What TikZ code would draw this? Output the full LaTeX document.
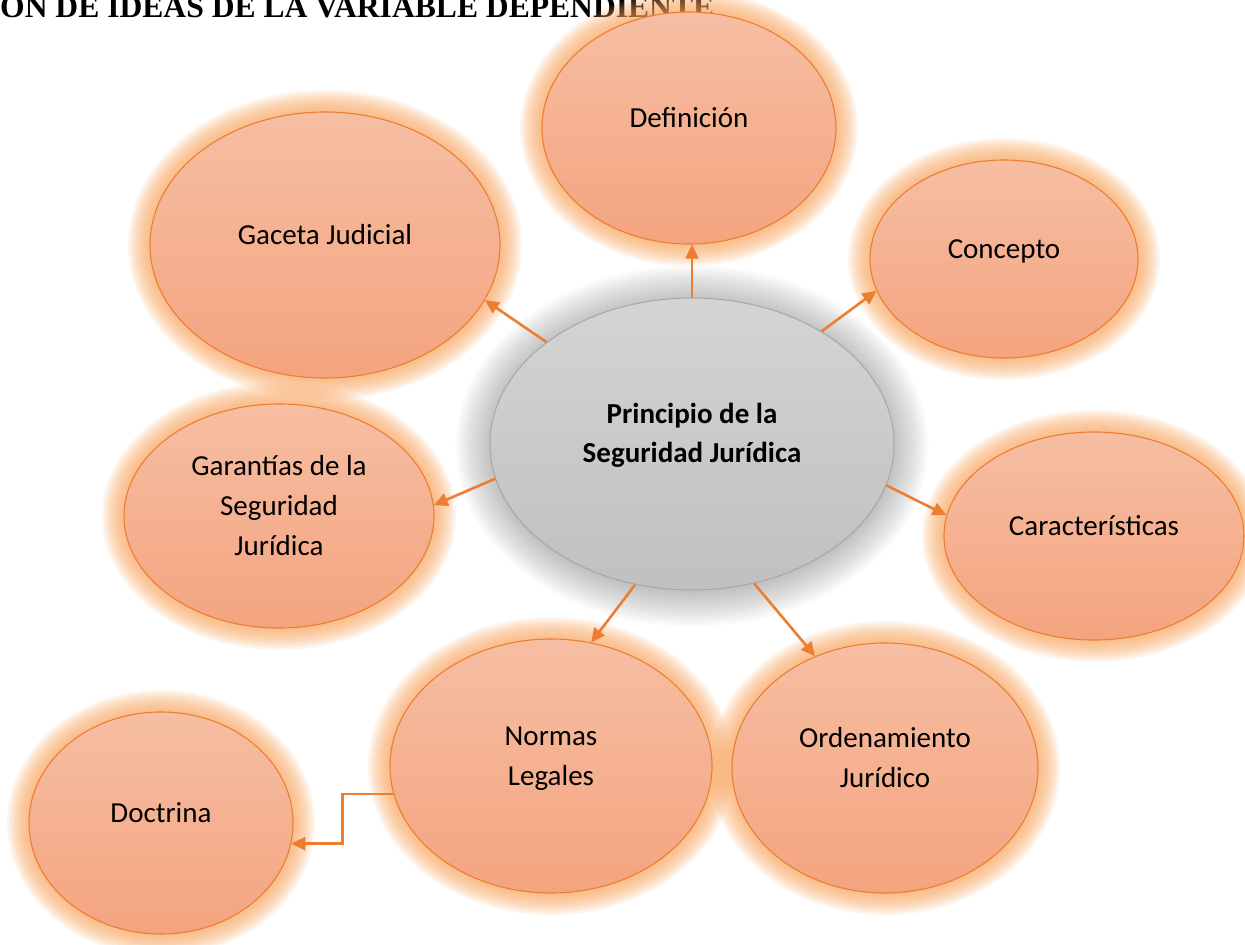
\documentclass[tikz,border=0pt]{standalone}
\usepackage{fontspec}
\setmainfont{Carlito}
\newfontfamily\titlefont{Liberation Serif}
\usetikzlibrary{shapes.geometric,arrows.meta,calc}
\definecolor{orline}{HTML}{ED7D31}
\definecolor{ortop}{HTML}{F6BEA3}
\definecolor{orbot}{HTML}{F4A47F}
\definecolor{glowc}{HTML}{F7A25A}
\definecolor{gtop}{HTML}{D4D4D4}
\definecolor{gbot}{HTML}{C0C0C0}
\definecolor{gline}{HTML}{A6A6A6}
\newcommand\bt[1]{\raisebox{9pt}[\height][\depth]{\begin{tabular}{@{}c@{}}#1\end{tabular}}}
\newcommand\glowat[4]{%
  \foreach \k in {1,...,11}{\fill[glowc, opacity=0.1] (#1,#2) ellipse [x radius={#3pt+\k*2pt}, y radius={#4pt+\k*2pt}];}}
\begin{document}
\begin{tikzpicture}[x=1pt,y=-1pt,
 bub/.style={ellipse, draw=orline, line width=1.1pt, top color=ortop, bottom color=orbot, inner sep=0pt, font=\fontsize{29}{40}\selectfont},
 core/.style={ellipse, draw=gline, line width=1pt, top color=gtop, bottom color=gbot, inner sep=0pt, font=\bfseries\fontsize{29}{39}\selectfont},
 link/.style={draw=orline, line width=2.6pt, -{Triangle[length=14pt,width=13pt]}},
 ttl/.style={anchor=base west, inner sep=0pt, font=\titlefont\bfseries\fontsize{31.6}{36}\selectfont}
]
\useasboundingbox (0,0) rectangle (1245,945);
\clip (0,0) rectangle (1245,945);
\node[ttl] (title) at (0,17) {ON DE IDEAS DE LA VARIABLE DEPENDIENTE};
% glows
\glowat{689}{128}{147}{116}
\glowat{325}{245}{175}{133}
\glowat{1004}{259}{134}{99}
\glowat{279}{516}{155}{112}
\glowat{1094}{536}{150}{104}
\glowat{551}{766}{161}{127}
\glowat{885}{768}{153}{125}
\glowat{161}{823}{132}{111}
% shadow of the central ellipse
\foreach \k in {1,...,14}{\fill[black, opacity=0.018] (692,446) ellipse [x radius={200pt+\k*2.6pt}, y radius={144pt+\k*2.6pt}];}
% nodes
\node[bub, minimum width=294pt, minimum height=232pt] (def) at (689,128) {\bt{Definición}};
\node[bub, minimum width=350pt, minimum height=266pt] (gac) at (325,245) {\bt{Gaceta Judicial}};
\node[bub, minimum width=268pt, minimum height=198pt] (con) at (1004,259) {\bt{Concepto}};
\node[bub, minimum width=310pt, minimum height=224pt] (gar) at (279,516) {\bt{Garantías de la\\Seguridad\\Jurídica}};
\node[bub, minimum width=300pt, minimum height=208pt] (car) at (1094,536) {\bt{Características}};
\node[bub, minimum width=322pt, minimum height=254pt] (nor) at (551,766) {\bt{Normas\\Legales}};
\node[bub, minimum width=306pt, minimum height=250pt] (ord) at (885,768) {\bt{Ordenamiento\\Jurídico}};
\node[bub, minimum width=264pt, minimum height=222pt] (doc) at (161,823) {\bt{Doctrina}};
\node[core, minimum width=404pt, minimum height=292pt] (c) at (692,444) {\bt{Principio de la\\Seguridad Jurídica}};
% connectors
\draw[link] (c.north) -- (c.north |- def.south);
\draw[link] (c.145.9) -- (gac.-19.7);
\draw[link] (c.41.3) -- (con.-166.1);
\draw[link] (c.-170.2) -- (gar.4.8);
\draw[link] (c.-12.3) -- (car.172.7);
\draw[link] (c.-112.4) -- (nor.72.1);
\draw[link] (c.-66.7) -- (ord.122.2);
\draw[link] (nor.-170.8) -| ($(nor.-170.8)!0.5!(doc.-9.8)$) |- (doc.-9.8);
\end{tikzpicture}
\end{document}
